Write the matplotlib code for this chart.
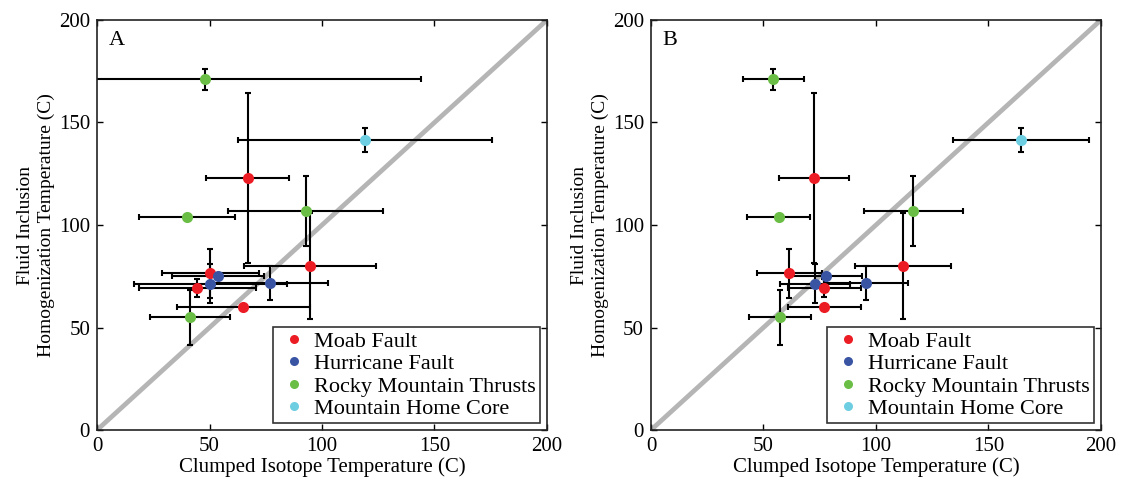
import matplotlib

matplotlib.use("Agg")
import matplotlib.pyplot as plt
import numpy as np

plt.rcParams["font.family"] = ["Liberation Serif", "DejaVu Serif"]

groups = ["Moab Fault", "Hurricane Fault", "Rocky Mountain Thrusts", "Mountain Home Core"]
group_colours = ["#ec1c24", "#3a54a4", "#6abd45", "#6dcde1"]

# one entry per sample: group index, fluid inclusion temperature (y) and errors
sample_group = [2, 3, 0, 2, 2, 0, 0, 1, 1, 1, 0, 0, 2]
fi_temp = [171, 141.5, 123, 107, 104, 80, 76.5, 75.3, 71.3, 71.7, 69.3, 60, 55]
fi_err = [5, 6, 41.5, 17, 0, 26, 12, 0, 9.5, 8.5, 4.3, 0, 13.4]

# panel A clumped isotope temperatures
clumped_a = [48, 119, 67, 92.7, 40, 94.7, 50.4, 53.7, 50.3, 77, 44.6, 65, 41.3]
clumped_a_err = [96, 56.5, 18.4, 34.5, 21.3, 29.5, 21.5, 20.5, 34, 25.8, 26, 29.6, 17.8]

# panel B clumped isotope temperatures
clumped_b = [54.4, 164.4, 72.4, 116.6, 56.7, 112.1, 61.5, 77.6, 72.9, 95.5, 77, 77, 57.3]
clumped_b_err = [13.7, 30.2, 15.7, 22, 14, 21.3, 14.5, 16.3, 15.6, 18.8, 16.3, 16.3, 13.9]

ticks = [0, 50, 100, 150, 200]


def draw_panel(ax, xs, xerrs, letter):
    ax.plot([0, 200], [0, 200], color="#b5b5b5", linewidth=3.4, zorder=1)
    for i in range(len(xs)):
        ax.errorbar(
            xs[i],
            fi_temp[i],
            xerr=xerrs[i],
            yerr=fi_err[i] if fi_err[i] > 0 else None,
            fmt="none",
            ecolor="black",
            elinewidth=1.5,
            capsize=2,
            capthick=1.5,
            zorder=2,
        )
    for i in range(len(xs)):
        ax.plot(
            xs[i],
            fi_temp[i],
            "o",
            color=group_colours[sample_group[i]],
            markersize=8,
            markeredgewidth=0,
            zorder=3,
        )
    handles = [
        ax.plot([], [], "o", color=c, markersize=6.5, markeredgewidth=0, label=g)[0]
        for g, c in zip(groups, group_colours)
    ]
    legend = ax.legend(
        handles=handles,
        loc="lower right",
        fontsize=16,
        frameon=True,
        fancybox=False,
        edgecolor="black",
        handletextpad=0.15,
        handlelength=1.5,
        borderpad=0.2,
        labelspacing=0.08,
        borderaxespad=0.3,
    )
    legend.get_frame().set_linewidth(1.2)
    ax.text(5, 190, letter, fontsize=16, va="center", ha="left")
    ax.set_xlim(0, 200)
    ax.set_ylim(0, 200)
    ax.set_xticks(ticks)
    ax.set_yticks(ticks)
    ax.tick_params(direction="in", length=4, width=1, labelsize=15, pad=5, top=True, right=True)
    ax.set_xlabel("Clumped Isotope Temperature (C)", fontsize=15, labelpad=1)
    ax.set_ylabel("Fluid Inclusion\nHomogenization Temperature (C)", fontsize=14, labelpad=3, linespacing=1.25)
    for spine in ax.spines.values():
        spine.set_linewidth(1.2)
        spine.set_color("#222222")


fig = plt.figure(figsize=(11.22, 4.91), dpi=100)
ax_a = fig.add_axes([0.0865, 0.1242, 0.401, 0.8351])
ax_b = fig.add_axes([0.5802, 0.1242, 0.401, 0.8351])
draw_panel(ax_a, clumped_a, clumped_a_err, "A")
draw_panel(ax_b, clumped_b, clumped_b_err, "B")

fig.savefig("out.png", dpi=100, facecolor="white")
